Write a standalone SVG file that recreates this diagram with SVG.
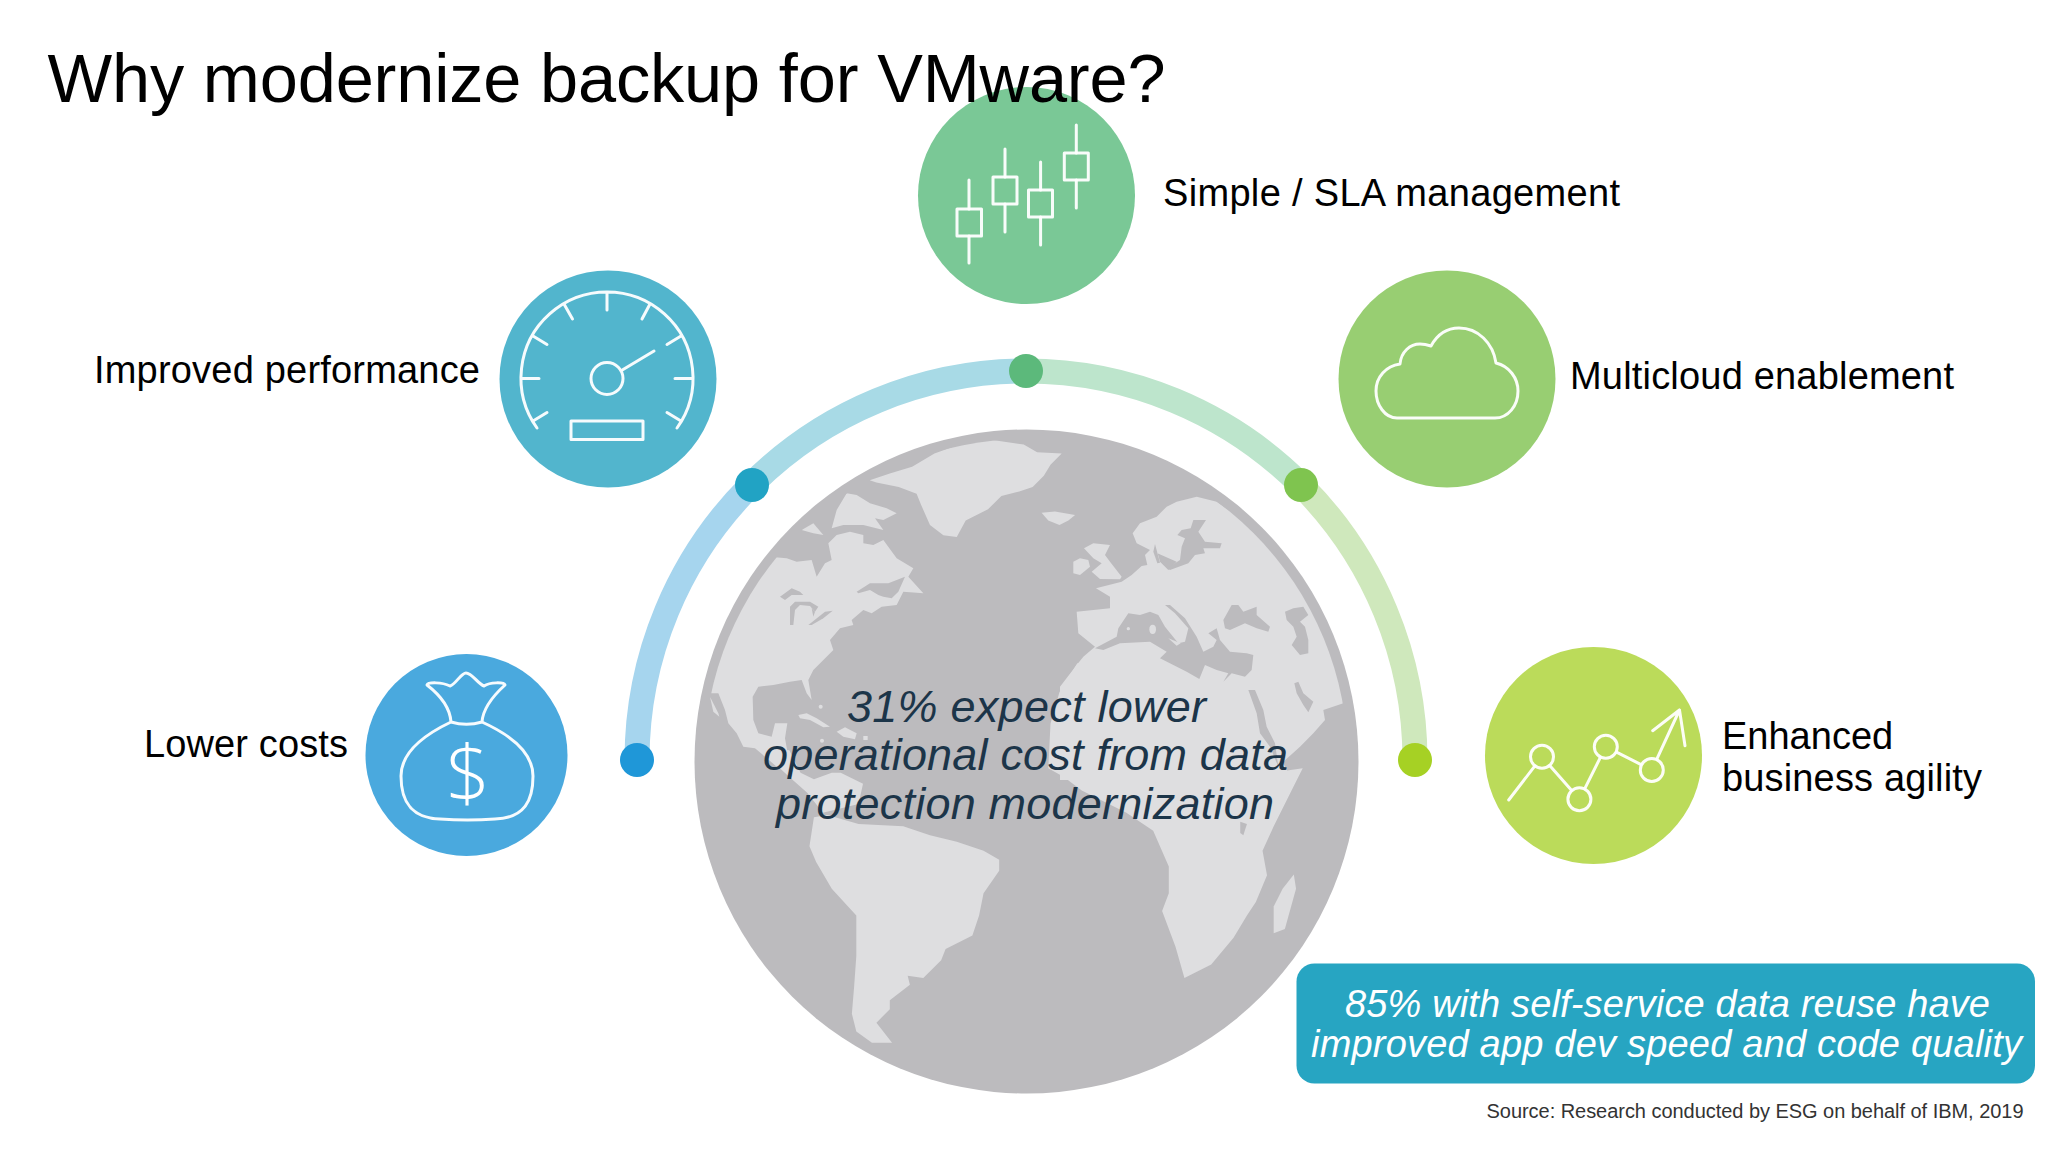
<svg xmlns="http://www.w3.org/2000/svg" width="2048" height="1152" viewBox="0 0 2048 1152">
<defs>
<clipPath id="landClip"><circle cx="1026" cy="761" r="322"/></clipPath>
</defs>
<style>
text{font-family:"Liberation Sans",Arial,sans-serif}
.ic{fill:none;stroke:#fff;stroke-width:3;stroke-linecap:round;stroke-linejoin:round;opacity:.95}
.land{fill:#dedee0}
.sea{fill:#bcbbbe}
.lbl{font-size:38px;fill:#000}
.mid{font-size:45px;font-style:italic;fill:#1c3549}
.box{font-size:38px;font-style:italic;fill:#fff}
.arc{fill:none;stroke-width:25}
</style>
<rect width="2048" height="1152" fill="#fff"/>
<g id="globe">
<circle cx="1026.5" cy="761.5" r="332" fill="#bcbbbe"/>
<g clip-path="url(#landClip)">
<g transform="translate(680,420) scale(.4464)">
<path class="land" d="M425,135L470,120 520,105 570,75 640,50 700,45 770,55 800,72 855,75 830,100 815,125 790,150 760,160 720,170 690,200 640,225 620,262 590,258 560,235 540,190 530,165 490,150 440,140Z"/>
<path class="land" d="M810,208L840,205 885,213 870,225 850,235 825,225Z"/>
<path class="land" d="M890,545L850,610 830,680 825,780 860,800 900,830 1000,880 1060,920 1095,1000 1095,1060 1080,1100 1110,1180 1130,1250 1190,1220 1240,1160 1270,1110 1290,1080 1315,1020 1305,965 1330,910 1370,830 1395,780 1360,785 1330,730 1300,640 1000,540Z"/>
<path class="land" d="M1375,1018L1380,1050 1355,1140 1330,1150 1330,1090 1350,1050Z"/>
<path class="land" d="M300,890L330,885 400,905 500,910 560,930 620,945 680,965 715,985 715,1010 680,1060 670,1110 655,1155 595,1185 585,1210 545,1250 510,1245 515,1265 470,1300 470,1320 440,1350 475,1395 430,1395 395,1370 385,1330 390,1270 395,1200 395,1110 340,1050 305,990 290,955Z"/>
<path class="land" d="M175,735L245,740 270,790 300,805 340,790 360,790 410,815 400,860 320,880 285,835 245,800Z"/>
<path class="sea" d="M1255,900L1270,905 1262,930 1255,925Z"/>
</g>
<g transform="translate(1060,480) scale(.33333)">
<path class="land" d="M218,160L240,130 290,110 320,80 350,65 410,50 470,65 950,400 950,640 850,670 790,690 795,720 760,760 720,800 670,845 650,870 600,900 0,900 0,620 50,555 70,530 105,500 55,460 50,395 150,385 150,350 108,325 185,305 215,285 245,258 262,255 255,225 270,210 285,190 300,245 325,270 350,245 270,210 230,190Z"/>
<path class="land" d="M72,205L100,190 150,195 135,225 150,245 185,290 180,298 120,297 95,275 125,250 100,235Z"/>
<path class="land" d="M40,245L60,235 85,240 90,260 60,285 40,280Z"/>
<path class="sea" d="M400,120L438,120 415,155 435,185 485,190 480,205 430,205 435,220 405,225 385,250 330,270 322,265 345,250 360,240 365,200 375,175 352,165 365,150 392,145Z"/>
<path class="sea" d="M285,192L300,248 292,250 280,215Z"/>
<path class="sea" d="M105,505L170,470 175,445 205,400 240,405 270,395 295,405 315,440 355,490 375,485 385,445 345,400 315,375 330,375 375,415 410,470 430,515 460,500 470,480 445,460 470,445 480,480 510,515 560,520 580,525 575,570 555,590 515,580 490,605 505,580 470,570 435,555 418,597 380,575 340,555 300,535 320,515 270,485 180,490 130,510Z"/>
<path class="land" d="M325,475L362,490 350,497Z"/>
<ellipse class="land" cx="278" cy="448" rx="10" ry="14"/>
<circle class="land" cx="205" cy="446" r="5"/>
<path class="sea" d="M515,375L535,375 550,395 590,380 590,405 630,440 625,455 590,445 555,430 510,450 495,445 490,420Z"/>
<path class="sea" d="M675,395L700,385 730,380 745,405 720,425 735,440 745,480 745,520 720,525 695,495 710,470 700,440 680,420Z"/>
<path class="sea" d="M703,610L715,605 730,640 760,665 745,697 730,675 710,640Z"/>
<path class="sea" d="M565,630L585,630 610,690 620,740 645,790 655,860 630,800 600,760 590,700Z"/>
</g>
<g transform="translate(700,480) scale(.33333)">
<path class="land" d="M-20,620L60,300 225,232 260,235 290,245 335,240 350,290 375,250 395,240 385,190 410,165 450,155 490,165 490,190 520,195 550,180 590,235 640,265 625,290 670,340 610,335 590,375 545,380 515,400 490,390 455,420 460,435 420,445 390,480 400,510 370,540 340,570 325,600 335,660 320,640 305,600 270,605 220,615 175,620 158,650 160,720 175,760 215,770 225,730 262,730 255,775 265,830 230,860 195,830 165,805 130,800 110,760 85,730 75,690 55,640 20,640Z"/>
<path class="land" d="M395,145L410,90 440,40 470,45 510,70 560,85 590,100 550,120 525,115 550,150 490,135 430,135Z"/>
<path class="land" d="M305,150L340,130 370,165 340,160Z"/>
<path class="land" d="M30,650L55,700 58,710 40,695Z"/>
<path class="sea" d="M470,335L510,310 540,310 565,310 590,300 615,290 595,335 575,355 550,350 535,345 510,330 475,340Z"/>
<path class="sea" d="M240,350L275,325 300,335 310,345 275,345 255,360Z"/>
<path class="sea" d="M270,380L285,365 330,365 355,380 345,395 330,378 300,375 285,390 280,435 270,435Z"/>
<path class="sea" d="M325,435L375,395 398,392 370,415 335,435Z"/>
<path class="sea" d="M335,385L345,395 340,410Z"/>
<path class="land" d="M295,705L320,700 350,715 390,740 370,742 330,720 300,715Z"/>
<path class="land" d="M410,755L435,742 470,760 465,778 430,770Z"/>
<rect class="land" x="490" y="768" width="13" height="12"/>
<circle class="land" cx="362" cy="680" r="6"/>
<circle class="land" cx="366" cy="782" r="6"/>
</g>
</g>
</g>
<g id="connectors">
<path class="arc" stroke="#a6d5ee" d="M637,760A389,389 0 0 1 751,485"/>
<path class="arc" stroke="#a8dae6" d="M751,485A389,389 0 0 1 1026,371"/>
<path class="arc" stroke="#bde5cc" d="M1026,371A389,389 0 0 1 1301,485"/>
<path class="arc" stroke="#cfe8bc" d="M1301,485A389,389 0 0 1 1415,760"/>
<circle cx="637" cy="760" r="17" fill="#1f97d8"/>
<circle cx="752" cy="485" r="17" fill="#21a3c4"/>
<circle cx="1026" cy="371" r="17" fill="#5cb97b"/>
<circle cx="1301" cy="485" r="17" fill="#7fc44f"/>
<circle cx="1415" cy="760" r="17" fill="#a6d124"/>
</g>
<g id="node-costs">
<circle cx="466.5" cy="755" r="101" fill="#4aa9de"/>
<path class="ic" d="M451,722C450,708 440,695 427,685C428,682 442,682 450,686C456,684 461,673 466,673C472,673 478,684 484,686C490,682 504,682 505,685C494,695 483,708 482,722C472,725 461,725 451,722ZM451,722C430,732 401,750 401,776C401,800 410,818 440,819C455,820 480,820 495,819C525,818 533,800 533,776C533,750 504,732 482,722"/>
<text x="468" y="801" text-anchor="middle" style="font-family:'Open Sans',sans-serif;font-weight:300;font-size:78px;fill:#fff">$</text>
<text class="lbl" x="144" y="757" textLength="204">Lower costs</text>
</g>
<g id="node-performance">
<circle cx="608" cy="379" r="108.5" fill="#52b5cd"/>
<path class="ic" d="M537,428A86,86 0 1 1 677,428M607,294V310M564,304L572.500,319M533,336L547,344.500M522,378.500H539M533,421L547,412.500M650,304L642,319M681,336L667,344.500M692,378.500H675M681,421L667,412.500M622.700,369.700L654,351"/>
<circle class="ic" cx="607" cy="378.500" r="16"/>
<rect class="ic" x="571" y="421" width="72" height="18.500"/>
<text class="lbl" x="94" y="383" textLength="386">Improved performance</text>
</g>
<g id="node-sla">
<circle cx="1026.500" cy="195.500" r="108.500" fill="#7ac896"/>
<path class="ic" d="M969,180V209M969,236V263M1005,149V177M1005,204V232M1040.600,162V190M1040.600,217V245M1076.300,125V153M1076.300,180V208"/>
<rect class="ic" x="957" y="209" width="24.500" height="27"/>
<rect class="ic" x="993" y="177" width="24" height="27"/>
<rect class="ic" x="1028.500" y="190" width="24" height="27"/>
<rect class="ic" x="1064.300" y="153" width="24" height="27"/>
<text class="lbl" x="1163" y="206" textLength="457">Simple / SLA management</text>
</g>
<g id="node-multicloud">
<circle cx="1447" cy="379" r="108.500" fill="#98ce72"/>
<path class="ic" d="M1397,418C1385,418 1376,405 1376,391C1376,377 1386,366 1400,364C1401,352 1410,344 1420,344C1424,344 1428,345 1431,346C1437,335 1447,328 1459,328C1478,328 1493,343 1496,363C1509,366 1518,378 1518,391C1518,406 1508,418 1495,418Z"/>
<text class="lbl" x="1570" y="389" textLength="384">Multicloud enablement</text>
</g>
<g id="node-agility">
<circle cx="1593.500" cy="755.500" r="108.500" fill="#bbdb5a"/>
<path class="ic" d="M1508.700,800L1534.700,766.200M1549.900,765.700L1571.500,790.300M1584.800,788.600L1600.400,757.400M1616.500,752.100L1641.100,764.600M1656.800,759.100L1679.500,710M1652.700,730.700L1679.500,710L1685,745.700"/>
<circle class="ic" cx="1542" cy="756.700" r="11.500"/>
<circle class="ic" cx="1579.400" cy="799.300" r="11.500"/>
<circle class="ic" cx="1605.800" cy="746.700" r="11.500"/>
<circle class="ic" cx="1651.800" cy="770" r="11.500"/>
<text class="lbl" x="1722" y="749">Enhanced</text>
<text class="lbl" x="1722" y="791" textLength="260">business agility</text>
</g>
<g id="node-lower-cost-stat">
<text class="mid" x="847" y="722" textLength="359">31% expect lower</text>
<text class="mid" x="763" y="770" textLength="525">operational cost from data</text>
<text class="mid" x="776" y="818.500" textLength="498">protection modernization</text>
</g>
<g id="node-reuse-stat">
<rect x="1296.500" y="963.500" width="738.500" height="120" rx="18" fill="#27a5c2"/>
<text class="box" x="1345" y="1016.500" textLength="645">85% with self-service data reuse have</text>
<text class="box" x="1311" y="1056.500" textLength="711">improved app dev speed and code quality</text>
</g>
<text id="title" x="47.500" y="101.700" font-size="68.500" fill="#000" textLength="1118">Why modernize backup for VMware?</text>
<text id="source" x="1486.500" y="1117.500" font-size="20" fill="#333" textLength="537">Source: Research conducted by ESG on behalf of IBM, 2019</text>
</svg>
